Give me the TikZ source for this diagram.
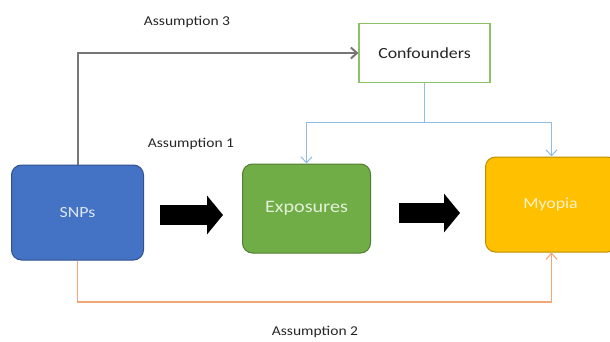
\documentclass[tikz,border=0pt]{standalone}
\usepackage{fontspec}
\setmainfont{Carlito}[FakeStretch=1.15]
\usetikzlibrary{arrows.meta,calc}
\definecolor{snpblue}{HTML}{4472C4}
\definecolor{snpborder}{HTML}{2F528F}
\definecolor{snptext}{HTML}{DDE6F5}
\definecolor{expgreen}{HTML}{70AD47}
\definecolor{expborder}{HTML}{507E32}
\definecolor{exptext}{HTML}{E2F0D9}
\definecolor{myoyellow}{HTML}{FFC000}
\definecolor{myoborder}{HTML}{BC8C00}
\definecolor{myotext}{HTML}{FFF2CC}
\definecolor{confborder}{HTML}{8CC168}
\definecolor{grayline}{HTML}{767676}
\definecolor{blueline}{HTML}{8FBBE4}
\definecolor{orangeline}{HTML}{F4A678}
\definecolor{labeltext}{HTML}{262626}
\tikzset{
  boxnode/.style={rectangle, rounded corners=10pt, line width=1pt, inner sep=0pt,
    font=\fontsize{15.5}{18}\selectfont},
  confnode/.style={rectangle, draw=confborder, fill=white, line width=1.2pt, inner sep=0pt,
    minimum width=131pt, minimum height=59pt, text=labeltext,
    font=\fontsize{15.5}{18}\selectfont},
  labelnode/.style={inner sep=0pt, text=labeltext, font=\fontsize{13.5}{16}\selectfont},
  openhead/.style={-{Straight Barb[length=6pt,width=11pt]}},
  blockarrow/.style={line width=20pt, -{Triangle[length=16pt,width=38pt]}, black},
}
\begin{document}
\begin{tikzpicture}[x=1pt,y=-1pt]
\useasboundingbox (0,0) rectangle (610,341);
\fill[white] (0,0) rectangle (610,341);

\node[boxnode, fill=snpblue, draw=snpborder, minimum width=132pt, minimum height=95pt,
  text=snptext] (snps) at (77.5,212.5) {SNPs};
\node[boxnode, fill=expgreen, draw=expborder, minimum width=128pt, minimum height=89pt,
  text=exptext, font=\fontsize{17.5}{20}\selectfont] (exp) at (306.5,208.5) {Exposures};
\node[boxnode, fill=myoyellow, draw=myoborder, minimum width=132pt, minimum height=95pt,
  text=myotext] (myo) at (551.5,204.5) {\hspace*{-2pt}Myopia};
\node[confnode] (conf) at (424.5,53) {Confounders};

\node[labelnode] (a3) at (187,21.5) {Assumption 3};
\node[labelnode] (a1) at (191,143.5) {Assumption 1};
\node[labelnode] (a2) at (315,331.5) {Assumption 2};

% gray path SNPs -> Confounders
\draw[grayline, line width=2pt, openhead] (snps.north) |- (conf.west);

% blue paths Confounders -> Exposures, Myopia
\coordinate (bj) at ($(conf.south)+(0,39.5)$);
\draw[blueline, line width=1pt, openhead] (conf.south) -- (bj) -| (exp.north);
\draw[blueline, line width=1pt, openhead] (bj) -| (myo.north);

% orange path SNPs -> Myopia
\coordinate (ob) at ($(snps.south)+(0,41.5)$);
\draw[orangeline, line width=1.1pt, openhead] (snps.south) -- (ob) -| (myo.south);

% block arrows
\coordinate (b1s) at ($(snps.east)+(16,2.5)$);
\coordinate (b1e) at ($(exp.west)+(-19,6.5)$);
\draw[blockarrow] (b1s) -- (b1e);
\coordinate (b2s) at ($(exp.east)+(28,4.5)$);
\coordinate (b2e) at ($(myo.west)+(-25,8.5)$);
\draw[blockarrow] (b2s) -- (b2e);
\end{tikzpicture}
\end{document}
